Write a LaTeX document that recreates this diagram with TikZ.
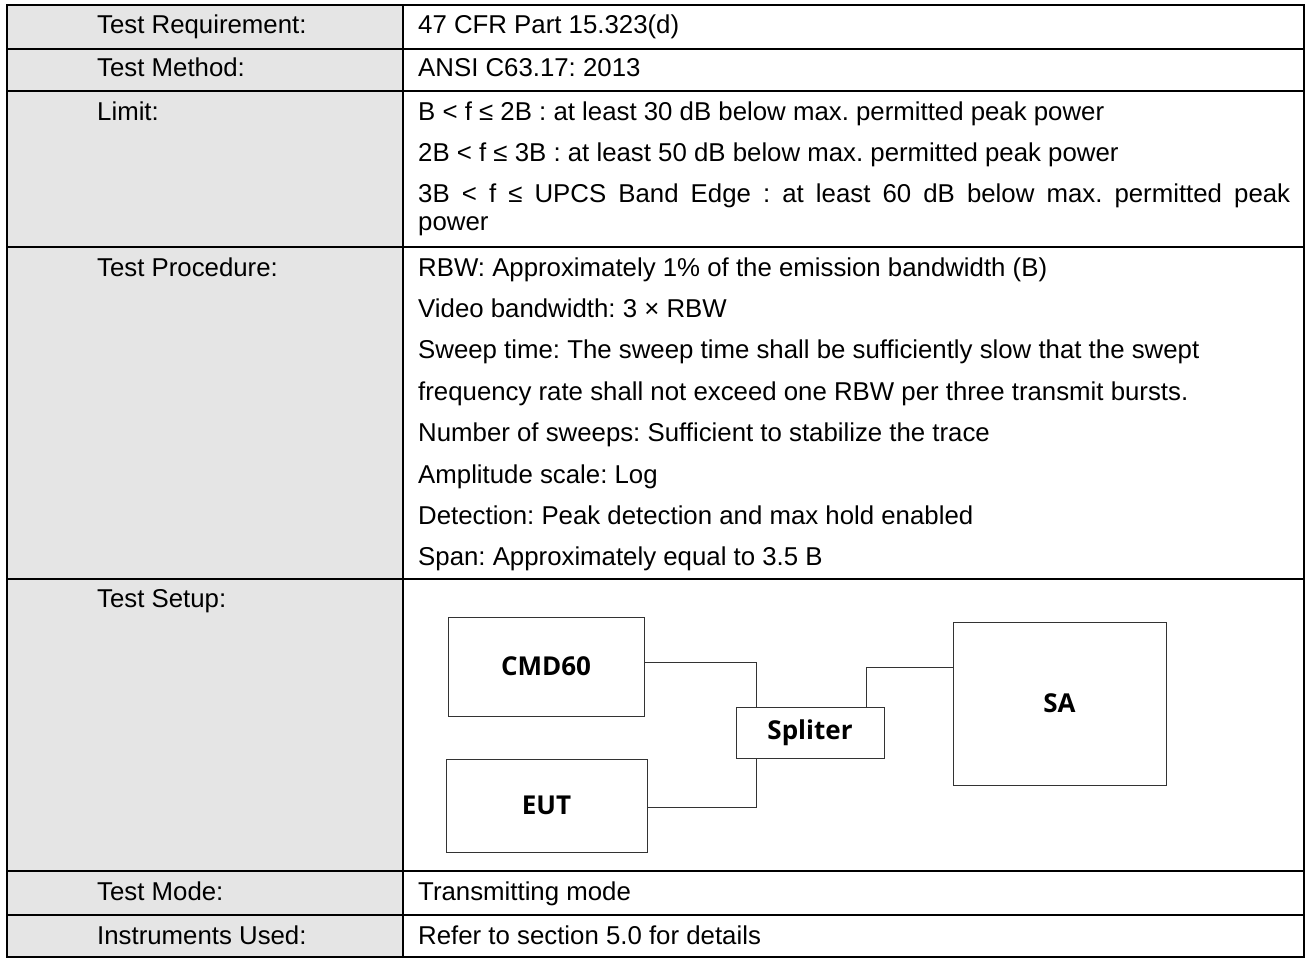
\documentclass[tikz,border=0pt]{standalone}
\usepackage{fontspec}
\setmainfont{Liberation Sans}
\newfontfamily\diagfont{Open Sans}
\frenchspacing
\begin{document}
\begin{tikzpicture}[x=1pt,y=-1pt,
  txt/.style={anchor=base west, inner sep=0pt, font=\fontsize{25.8}{28}\selectfont},
  rule/.style={draw=black, line width=1.3pt},
  dev/.style={draw=black!80, line width=1pt, inner sep=0pt,
    font=\diagfont\bfseries\fontsize{26}{30}\selectfont},
  wire/.style={draw=black!80, line width=1pt}]
\useasboundingbox (0,0) rectangle (1308,958);
% table
\fill[gray!20] (7,5) rectangle (403,957);
\foreach \yy in {49,91,247,579,871,915} \draw[rule] (7,\yy) -- (1304,\yy);
\draw[rule] (403,5) -- (403,957);
\draw[rule] (7,5) rectangle (1304,957);
% left column
\node[txt] (l1) at (97,34) {Test Requirement:};
\node[txt] (l2) at (97,77) {Test Method:};
\node[txt] (l3) at (97,120) {Limit:};
\node[txt] (l4) at (97,276) {Test Procedure:};
\node[txt] (l5) at (97,607) {Test Setup:};
\node[txt] (l6) at (97,900) {Test Mode:};
\node[txt] (l7) at (97,944) {Instruments Used:};
% right column
\node[txt] (r1) at (418,34) {47 CFR Part 15.323(d)};
\node[txt] (r2) at (418,77) {ANSI C63.17: 2013};
\node[txt] (r3a) at (418,120) {B < f ≤ 2B : at least 30 dB below max. permitted peak power};
\node[txt] (r3b) at (418,161) {2B < f ≤ 3B : at least 50 dB below max. permitted peak power};
\node[txt] (r3c) at (418,202) {\makebox[872pt][s]{3B < f ≤ UPCS Band Edge : at least 60 dB below max. permitted peak}};
\node[txt] (r3d) at (418,230) {power};
\node[txt] (p1) at (418,276) {RBW: Approximately 1\% of the emission bandwidth (B)};
\node[txt] (p2) at (418,317.4) {Video bandwidth: 3 × RBW};
\node[txt] (p3) at (418,358.8) {Sweep time: The sweep time shall be sufficiently slow that the swept};
\node[txt] (p4) at (418,400.2) {frequency rate shall not exceed one RBW per three transmit bursts.};
\node[txt] (p5) at (418,441.6) {Number of sweeps: Sufficient to stabilize the trace};
\node[txt] (p6) at (418,483) {Amplitude scale: Log};
\node[txt] (p7) at (418,524.4) {Detection: Peak detection and max hold enabled};
\node[txt] (p8) at (418,565.8) {Span: Approximately equal to 3.5 B};
\node[txt] (r6) at (418,900) {Transmitting mode};
\node[txt] (r7) at (418,944) {Refer to section 5.0 for details};
% setup diagram
\node[dev, minimum width=196pt, minimum height=99pt] (cmd) at (546,666.5) {CMD60};
\node[dev, minimum width=201pt, minimum height=93pt] (eut) at (546.5,805.5) {EUT};
\node[dev, minimum width=148pt, minimum height=51pt] (spl) at (810,732.5) {Spliter};
\node[dev, minimum width=213pt, minimum height=163pt] (sa) at (1059.5,703.5) {SA};
\draw[wire] ([yshift=4.5pt]cmd.east) -| ([xshift=-54pt]spl.north);
\draw[wire] ([yshift=-2.2pt]eut.east) -| ([xshift=-54pt]spl.south);
\draw[wire] ([xshift=56pt]spl.north) |- ([yshift=36.2pt]sa.west);
\end{tikzpicture}
\end{document}
